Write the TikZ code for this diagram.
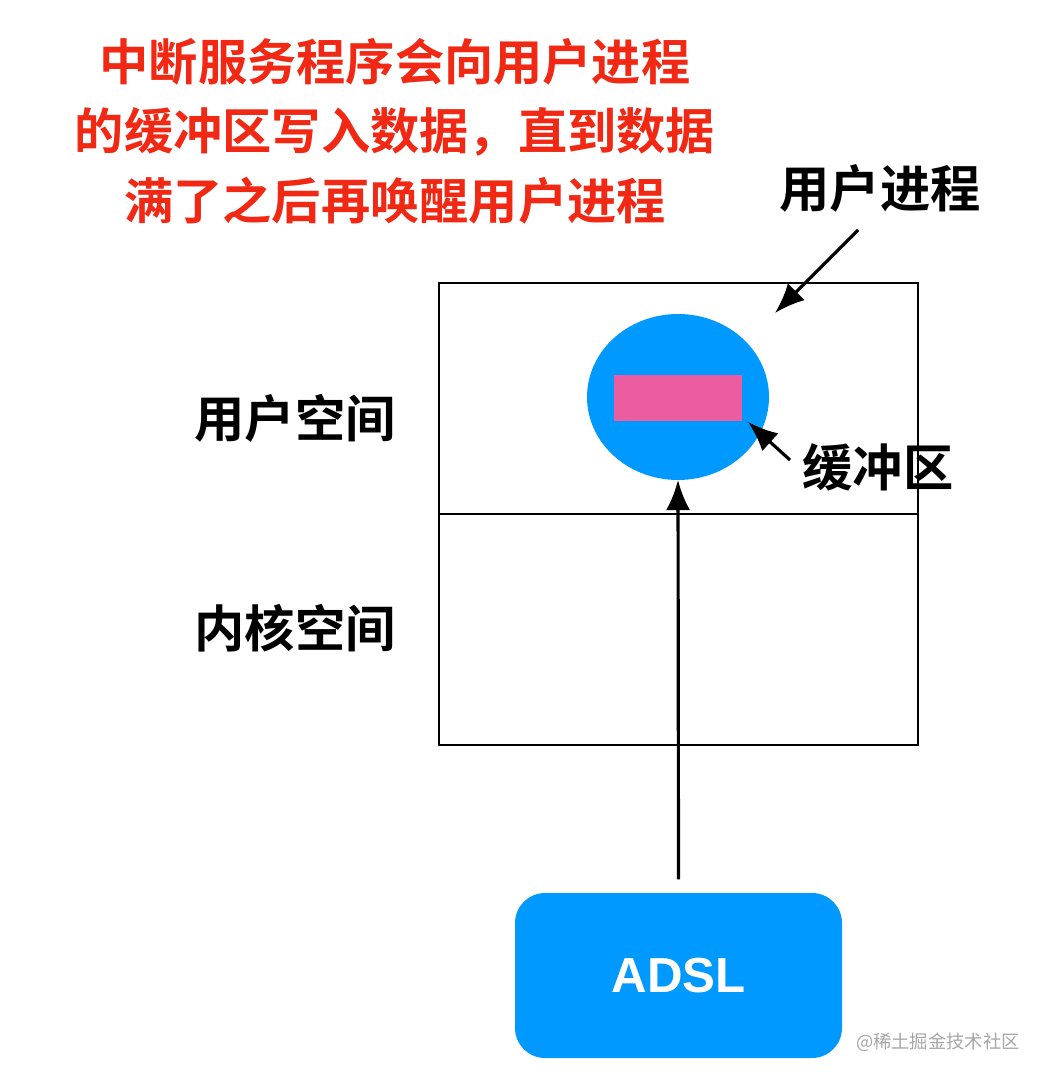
\documentclass[tikz,border=0pt]{standalone}
\usepackage{fontspec}
\setmainfont{Liberation Sans}
\newfontfamily\cjk{Noto Sans CJK SC}[BoldFont={Noto Sans CJK SC Bold}]
\usetikzlibrary{positioning,arrows.meta}
\definecolor{titlered}{RGB}{240,40,20}
\definecolor{bufblue}{RGB}{0,153,255}
\definecolor{bufpink}{RGB}{235,92,160}
\tikzset{
  lbl/.style={font=\cjk\bfseries\fontsize{14.3}{17}\selectfont},
  arr/.style={-{Latex[length=3mm,width=2.4mm]}, line width=0.9pt}
}
\begin{document}
\begin{tikzpicture}[x=0.01cm,y=-0.01cm]
\useasboundingbox (0,0) rectangle (1060,1080);

% title
\node[text=titlered, align=center, font=\cjk\bfseries\fontsize{14}{19.7}\selectfont] (title) at (395,131)
  {中断服务程序会向用户进程\\的缓冲区写入数据，直到数据\\满了之后再唤醒用户进程};

% spaces
\draw[semithick] (439,283) rectangle (918,514);
\draw[semithick] (439,514) rectangle (918,745);
\node[lbl] (user) at (295,418) {用户空间};
\node[lbl] (kernel) at (295,628) {内核空间};

% process and buffer
\fill[bufblue] (678,397) ellipse (91 and 83);
\coordinate (proc) at (678,480);
\fill[bufpink] (614,375) rectangle (742,421);
\coordinate (buf) at (748,422);
\coordinate (box) at (775,313);

\node[lbl] (proclbl) at (880,188) {用户进程};
\node[lbl] (buflbl) at (878,467) {缓冲区};
\draw[arr] (858,230) -- (box);
\draw[arr] (790,460) -- (buf);

% device
\node[fill=bufblue, rounded corners=0.3cm, minimum width=327*0.01cm, minimum height=165*0.01cm,
  text=white, font=\bfseries\fontsize{14}{17}\selectfont] (adsl) at (678.5,975.5) {ADSL};
\draw[arr] (adsl.north) ++(0,-13) -- (proc);

\node[text=gray!70, font=\cjk\fontsize{5.2}{6}\selectfont, anchor=east] (mark) at (1032,1042) {@稀土掘金技术社区};
\end{tikzpicture}
\end{document}
